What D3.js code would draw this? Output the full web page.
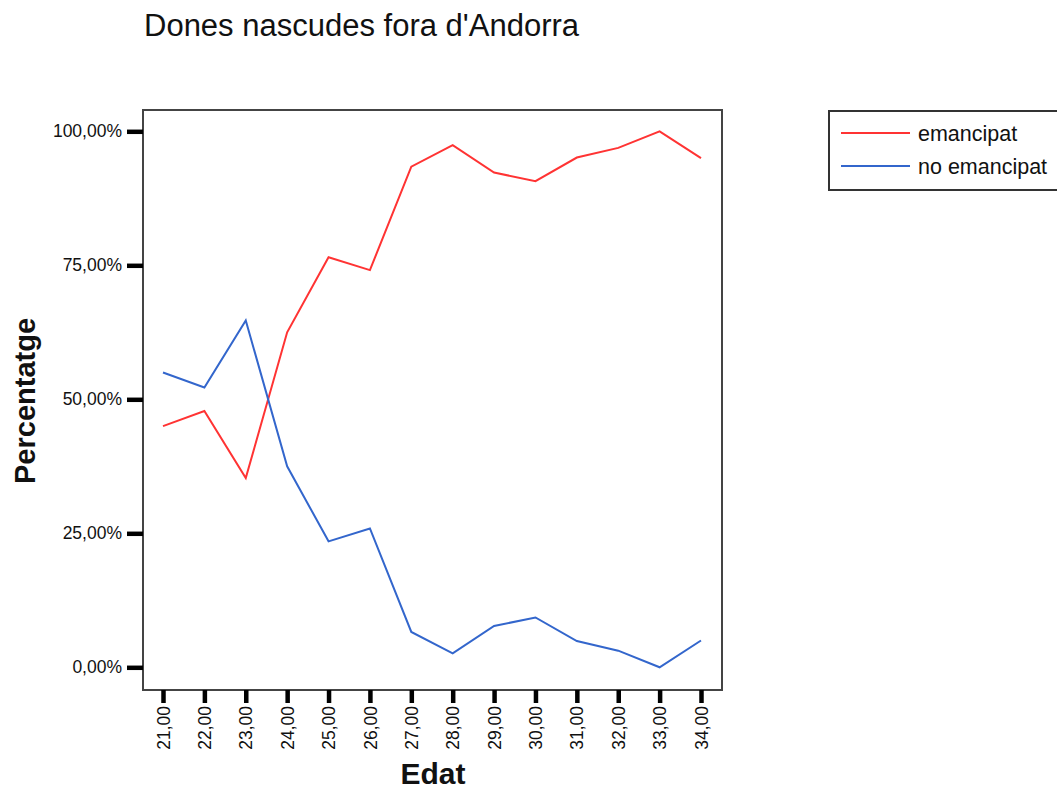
<!DOCTYPE html>
<html>
<head>
<meta charset="utf-8">
<script src="https://d3js.org/d3.v7.min.js"></script>
<style>
	body { margin: 0; background: #fff; }
	svg { display: block; font-family: 'Liberation Sans', Arial, sans-serif; }
</style>
</head>
<body>
<div id="chart"></div>
<script>
'use strict';

// ages on the x axis
var ages = [21, 22, 23, 24, 25, 26, 27, 28, 29, 30, 31, 32, 33, 34];

// percentages
var emancipat = [45.0, 47.8, 35.3, 62.5, 76.5, 74.1, 93.4, 97.4, 92.3, 90.7, 95.1, 96.9, 100.0, 95.0];
var noEmancipat = [55.0, 52.2, 64.7, 37.5, 23.5, 25.9, 6.6, 2.6, 7.7, 9.3, 4.9, 3.1, 0.0, 5.0];

var yTicks = [0, 25, 50, 75, 100];

var seriesNames = ['emancipat', 'no emancipat'];
var seriesColors = ['#ff3333', '#3366cc'];

var width = 1057, height = 789;

var frame = { left: 143, top: 110, right: 722, bottom: 690 };

var svg = d3.select('#chart').append('svg')
	.attr('width', width)
	.attr('height', height);

var x = d3.scalePoint()
	.domain(ages)
	.range([163, 701]);

var y = d3.scaleLinear()
	.domain([0, 100])
	.range([667.3, 131.3]);

// title
svg.append('text')
	.attr('x', 144)
	.attr('y', 36)
	.attr('font-size', 31)
	.attr('fill', '#111')
	.text("Dones nascudes fora d'Andorra");

// plot frame
svg.append('rect')
	.attr('x', frame.left)
	.attr('y', frame.top)
	.attr('width', frame.right - frame.left)
	.attr('height', frame.bottom - frame.top)
	.attr('fill', '#fff')
	.attr('stroke', '#444')
	.attr('stroke-width', 2);

// y axis (ticks sit outside the frame)
var fmtPct = function(d) { return d.toFixed(2).replace('.', ',') + '%'; };
var yAxis = d3.axisLeft(y)
	.tickValues(yTicks)
	.tickSize(16)
	.tickPadding(5)
	.tickFormat(fmtPct);

var axisY = svg.append('g')
	.attr('transform', 'translate(' + frame.left + ',0)')
	.call(yAxis);
axisY.select('.domain').remove();
axisY.selectAll('line').attr('stroke', '#000').attr('stroke-width', 4.5);
axisY.selectAll('text')
	.attr('font-size', 17.5)
	.attr('fill', '#111')
	.style('font-family', "'Liberation Sans', Arial, sans-serif");

// x axis
var xAxis = d3.axisBottom(x)
	.tickSize(13)
	.tickPadding(4)
	.tickFormat(function(d) { return d.toFixed(2).replace('.', ','); });

var axisX = svg.append('g')
	.attr('transform', 'translate(0,' + frame.bottom + ')')
	.call(xAxis);
axisX.select('.domain').remove();
axisX.selectAll('line').attr('stroke', '#000').attr('stroke-width', 4.5);
axisX.selectAll('text')
	.attr('font-size', 17.5)
	.attr('fill', '#111')
	.attr('transform', 'rotate(-90)')
	.attr('x', -16)
	.attr('y', 0)
	.attr('dy', '0.35em')
	.attr('text-anchor', 'end')
	.style('font-family', "'Liberation Sans', Arial, sans-serif");

// axis titles
svg.append('text')
	.attr('x', 433)
	.attr('y', 784)
	.attr('text-anchor', 'middle')
	.attr('font-size', 30)
	.attr('font-weight', 'bold')
	.attr('fill', '#111')
	.text('Edat');

svg.append('text')
	.attr('transform', 'translate(35,401) rotate(-90)')
	.attr('text-anchor', 'middle')
	.attr('font-size', 29)
	.attr('font-weight', 'bold')
	.attr('fill', '#111')
	.text('Percentatge');

// lines
var line = d3.line()
	.x(function(d, i) { return x(ages[i]); })
	.y(function(d) { return y(d); });

[emancipat, noEmancipat].forEach(function(values, i) {
	svg.append('path')
		.datum(values)
		.attr('fill', 'none')
		.attr('stroke', seriesColors[i])
		.attr('stroke-width', 2)
		.attr('d', line);
});

// legend
var legend = svg.append('g');
legend.append('rect')
	.attr('x', 829)
	.attr('y', 111)
	.attr('width', 240)
	.attr('height', 79)
	.attr('fill', '#fff')
	.attr('stroke', '#333')
	.attr('stroke-width', 2);

seriesNames.forEach(function(name, i) {
	var ly = 133 + i * 33;
	legend.append('line')
		.attr('x1', 841)
		.attr('x2', 910)
		.attr('y1', ly)
		.attr('y2', ly)
		.attr('stroke', seriesColors[i])
		.attr('stroke-width', 2);
	legend.append('text')
		.attr('x', 918)
		.attr('y', ly)
		.attr('dy', '0.35em')
		.attr('font-size', 21.5)
		.attr('fill', '#111')
		.text(name);
});
</script>
</body>
</html>
